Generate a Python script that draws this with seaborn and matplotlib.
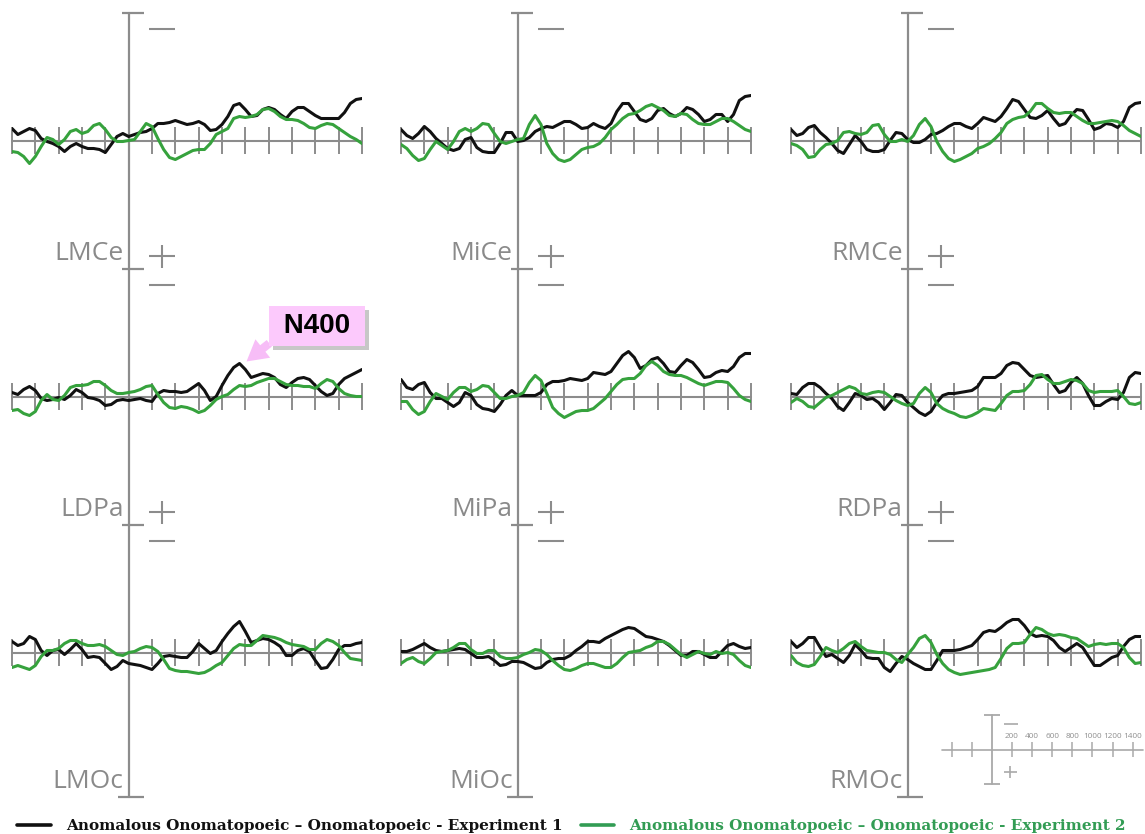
import numpy as np
import pandas as pd
import matplotlib
matplotlib.use("Agg")
import matplotlib.pyplot as plt
import seaborn as sns
from matplotlib import patheffects
from matplotlib.lines import Line2D
from matplotlib.font_manager import FontProperties

# ---------------- data (µV difference waves, negative plotted up) ----------------
time_ms = np.arange(-500, 1001, 25)

series_names = ["Anomalous Onomatopoeic \u2013 Onomatopoeic - Experiment 1",
                "Anomalous Onomatopoeic \u2013 Onomatopoeic - Experiment 2"]

electrode_grid = [["LMCe", "MiCe", "RMCe"],
                  ["LDPa", "MiPa", "RDPa"],
                  ["LMOc", "MiOc", "RMOc"]]

lmce_exp1 = [-1.2,-0.6,-0.9,-1.2,-1.0,-0.2,0.1,0.3,0.6,1.1, 0.6,0.3,0.6,0.8,0.8,0.9,1.2,0.4,-0.4,-0.7,
             -0.4,-0.6,-0.8,-0.9,-1.2,-1.7,-1.7,-1.8,-2.0,-1.8, -1.6,-1.7,-1.9,-1.6,-1.0,-1.1,-1.6,-2.4,-3.5,-3.7,
             -3.1,-2.4,-2.5,-3.1,-3.3,-3.1,-2.6,-2.2,-2.9,-3.3, -3.3,-2.9,-2.5,-2.2,-2.2,-2.2,-2.2,-2.8,-3.7,-4.1, -4.2]
lmce_exp2 = [1.1,1.2,1.6,2.3,1.6,0.6,-0.3,-0.1,0.4,-0.1, -0.9,-1.1,-0.7,-0.9,-1.5,-1.7,-1.1,-0.3,0.1,0.1,
             0.0,-0.1,-0.9,-1.7,-1.4,-0.2,0.9,1.7,1.9,1.6, 1.3,1.0,0.9,0.9,0.3,-0.6,-0.9,-1.2,-2.2,-2.4,
             -2.3,-2.4,-2.6,-3.1,-3.2,-2.9,-2.4,-2.1,-2.1,-2.0, -1.7,-1.3,-1.2,-1.5,-1.7,-1.6,-1.2,-0.8,-0.4,-0.1, 0.3]
mice_exp1 = [-1.1,-0.5,-0.2,-0.7,-1.4,-0.9,-0.2,0.3,0.8,1.0, 0.8,-0.1,-0.3,0.7,1.1,1.2,1.2,0.3,-0.8,-0.8,
             0.1,0.0,-0.3,-0.9,-1.2,-1.4,-1.3,-1.6,-1.9,-1.9, -1.6,-1.2,-1.3,-1.7,-1.4,-1.2,-1.7,-2.9,-3.7,-3.7,
             -2.9,-2.1,-1.9,-2.2,-3.0,-3.2,-2.7,-2.4,-2.7,-3.3, -3.1,-2.6,-1.9,-2.1,-2.6,-2.6,-1.9,-2.6,-4.0,-4.4, -4.5]
mice_exp2 = [0.4,0.8,1.5,2.0,1.8,0.9,0.1,0.5,0.9,0.1, -0.9,-1.2,-0.9,-1.2,-1.7,-1.6,-0.7,0.1,0.3,0.1,
             -0.1,-0.2,-1.6,-2.5,-1.6,0.3,1.3,1.9,2.1,1.9, 1.4,0.9,0.7,0.6,0.3,-0.3,-1.1,-1.6,-2.2,-2.6,
             -2.7,-3.0,-3.4,-3.6,-3.3,-3.0,-2.5,-2.4,-2.7,-2.6, -2.1,-1.7,-1.6,-1.6,-1.9,-2.2,-2.2,-1.9,-1.5,-1.1, -0.9]
rmce_exp1 = [-1.1,-0.5,-0.7,-1.3,-1.5,-0.8,-0.3,0.3,1.0,1.3, 0.4,-0.5,0.1,0.9,1.1,1.1,0.9,0.0,-0.8,-0.7,
             -0.1,0.2,0.2,-0.1,-0.6,-0.7,-1.0,-1.4,-1.7,-1.7, -1.4,-1.2,-1.7,-2.3,-2.1,-1.9,-2.4,-3.2,-4.1,-3.9,
             -3.1,-2.3,-2.2,-2.5,-3.0,-2.2,-1.5,-1.7,-2.5,-3.1, -3.0,-2.1,-1.1,-1.3,-1.7,-1.6,-1.3,-1.9,-3.3,-3.7, -3.8]
rmce_exp2 = [0.3,0.5,0.9,1.7,1.6,0.9,0.4,0.3,0.0,-0.8, -0.9,-0.7,-0.6,-0.8,-1.5,-1.6,-0.6,0.1,0.1,-0.1,
             0.1,-0.5,-1.6,-2.2,-1.4,0.1,1.1,1.8,2.1,1.9, 1.6,1.3,0.8,0.6,0.3,-0.2,-0.8,-1.7,-2.1,-2.3,
             -2.4,-2.9,-3.7,-3.7,-3.2,-2.8,-2.7,-2.8,-2.8,-2.4, -2.0,-1.7,-1.7,-1.8,-1.9,-2.0,-1.9,-1.5,-1.0,-0.7, -0.4]
ldpa_exp1 = [-0.4,-0.2,-0.7,-1.0,-0.6,0.2,0.4,0.3,0.1,0.3, -0.1,-0.7,-0.4,0.1,0.2,0.4,0.9,0.8,0.4,0.3,
             0.4,0.3,0.2,0.4,0.5,-0.3,-0.6,-0.5,-0.5,-0.4, -0.5,-0.9,-1.3,-0.6,0.4,0.0,-1.1,-2.1,-2.9,-3.3,
             -2.7,-1.9,-2.1,-2.3,-2.2,-1.9,-1.2,-0.9,-1.4,-1.8, -1.9,-1.7,-1.1,-0.5,-0.1,-0.3,-1.2,-1.8,-2.1,-2.4, -2.7]
ldpa_exp2 = [1.4,1.3,1.7,1.9,1.5,0.4,-0.2,0.3,0.4,-0.1, -0.9,-1.1,-1.1,-1.2,-1.5,-1.5,-1.1,-0.6,-0.3,-0.3,
             -0.4,-0.5,-0.7,-1.0,-1.1,-0.2,0.6,1.1,1.2,1.0, 1.1,1.3,1.6,1.4,0.9,0.3,0.0,-0.2,-0.7,-1.1,
             -1.0,-1.1,-1.4,-1.6,-1.8,-1.8,-1.5,-1.2,-1.1,-1.1, -1.0,-1.0,-0.8,-1.3,-1.7,-1.5,-0.8,-0.3,-0.1,0.0, 0.0]
mipa_exp1 = [-1.7,-0.9,-0.7,-1.2,-1.4,-0.4,0.2,0.2,0.6,1.0, 0.6,-0.4,-0.1,0.8,1.2,1.3,1.5,0.8,-0.1,-0.6,
             -0.1,-0.1,-0.1,-0.1,-0.4,-1.2,-1.5,-1.5,-1.6,-1.8, -1.7,-1.6,-1.8,-2.4,-2.3,-2.2,-2.5,-3.3,-4.1,-4.5,
             -3.9,-2.8,-3.1,-3.7,-3.9,-3.3,-2.5,-2.4,-3.1,-3.7, -3.4,-2.7,-1.9,-2.0,-2.4,-2.6,-2.5,-3.0,-3.9,-4.3, -4.3]
mipa_exp2 = [0.5,0.5,1.3,1.8,1.5,0.5,-0.3,0.0,0.3,-0.4, -0.9,-0.9,-0.5,-0.7,-1.1,-1.0,-0.4,0.2,0.2,0.0,
             -0.1,-0.4,-1.4,-2.1,-1.6,-0.3,1.1,1.7,2.1,1.8, 1.5,1.4,1.4,1.2,0.7,0.2,-0.5,-1.2,-1.7,-1.8,
             -1.8,-2.3,-3.1,-3.5,-3.1,-2.5,-2.2,-2.1,-2.1,-1.9, -1.6,-1.3,-1.1,-1.3,-1.5,-1.5,-1.4,-0.8,-0.1,0.3, 0.5]
rdpa_exp1 = [-0.3,-0.2,-0.9,-1.3,-1.3,-0.9,-0.3,0.2,1.0,1.4, 0.6,-0.3,-0.1,0.3,0.2,0.6,1.3,0.6,-0.2,-0.1,
             0.6,1.1,1.6,1.9,1.5,0.6,-0.1,-0.3,-0.3,-0.4, -0.5,-0.6,-1.0,-1.9,-1.9,-1.9,-2.3,-3.1,-3.4,-3.3,
             -2.7,-2.1,-1.9,-2.0,-2.1,-1.2,-0.4,-0.6,-1.4,-1.9, -1.3,-0.1,0.9,0.9,0.5,0.2,0.3,-0.4,-1.9,-2.4, -2.3]
rdpa_exp2 = [0.6,0.2,0.5,1.0,1.1,0.6,0.1,-0.1,-0.4,-0.7, -1.0,-0.8,-0.3,-0.2,-0.4,-0.5,-0.4,0.0,0.4,0.7,
             0.9,0.7,-0.3,-0.9,-0.4,0.7,1.2,1.5,1.7,2.0, 2.1,1.9,1.6,1.2,1.3,1.4,0.7,-0.1,-0.5,-0.5,
             -0.6,-1.2,-2.1,-2.2,-1.7,-1.3,-1.3,-1.5,-1.7,-1.6, -1.3,-0.6,-0.4,-0.5,-0.5,-0.5,-0.6,0.0,0.7,0.8, 0.6]
lmoc_exp1 = [-1.1,-0.7,-0.9,-1.6,-1.3,-0.2,0.3,-0.2,-0.3,0.2, -0.3,-0.9,-0.3,0.5,0.4,0.5,1.1,1.7,1.4,0.8,
             1.1,1.2,1.3,1.5,1.7,1.1,0.4,0.3,0.4,0.5, 0.5,-0.1,-0.9,-0.4,0.1,-0.2,-1.1,-1.9,-2.6,-3.1,
             -2.1,-1.0,-1.2,-1.4,-1.3,-1.0,-0.6,0.3,0.3,-0.2, -0.4,-0.1,0.8,1.6,1.5,0.7,-0.3,-0.7,-0.7,-0.9, -1.0]
lmoc_exp2 = [1.5,1.3,1.5,1.7,1.3,0.4,-0.2,-0.2,-0.4,-0.9, -1.2,-1.2,-0.9,-0.7,-0.7,-0.8,-0.6,-0.2,0.2,0.3,
             0.0,-0.1,-0.4,-0.6,-0.5,-0.1,0.7,1.6,1.8,1.9, 1.9,2.0,2.1,2.0,1.7,1.3,1.0,0.3,-0.4,-0.8,
             -0.7,-0.7,-1.2,-1.7,-1.6,-1.5,-1.3,-1.0,-0.8,-0.7, -0.6,-0.3,-0.3,-0.9,-1.3,-1.1,-0.7,0.0,0.6,0.7, 0.8]
mioc_exp1 = [-0.1,-0.1,-0.3,-0.6,-0.9,-0.5,-0.2,-0.1,-0.2,-0.3, -0.4,-0.3,0.1,0.5,0.5,0.4,0.8,1.3,1.2,0.9,
             0.9,1.0,1.3,1.6,1.5,1.0,0.7,0.6,0.6,0.3, -0.2,-0.6,-1.1,-1.1,-1.0,-1.4,-1.7,-2.0,-2.3,-2.5,
             -2.4,-2.0,-1.6,-1.5,-1.3,-1.1,-0.7,-0.2,0.3,0.3, -0.1,-0.1,0.2,0.5,0.5,-0.1,-0.7,-0.9,-0.6,-0.4, -0.5]
mioc_exp2 = [1.1,0.7,0.5,0.9,1.1,0.6,0.0,-0.1,-0.2,-0.5, -0.9,-0.9,-0.3,0.1,0.1,-0.2,-0.2,0.4,0.6,0.6,
             0.5,0.2,0.0,-0.3,-0.2,0.2,0.8,1.3,1.7,1.8, 1.6,1.3,1.1,1.1,1.3,1.5,1.5,1.1,0.5,0.0,
             -0.1,-0.2,-0.5,-0.7,-1.1,-1.1,-0.8,-0.3,0.2,0.5, 0.2,-0.1,0.1,0.2,-0.1,0.1,0.0,0.2,0.8,1.3, 1.5]
rmoc_exp1 = [-1.1,-0.5,-0.9,-1.5,-1.5,-0.5,0.4,0.2,0.6,1.0, 0.3,-0.8,-0.2,0.5,0.6,0.6,1.5,1.9,1.1,0.4,
             0.7,1.1,1.4,1.7,1.7,0.8,-0.2,-0.2,-0.2,-0.3, -0.5,-0.7,-1.3,-2.0,-2.2,-2.1,-2.5,-3.0,-3.3,-3.3,
             -2.7,-1.9,-1.6,-1.7,-1.6,-1.2,-0.5,-0.1,-0.5,-0.9, -0.5,0.4,1.3,1.3,0.9,0.5,0.3,-0.6,-1.3,-1.6, -1.6]
rmoc_exp2 = [0.3,1.0,1.3,1.4,1.2,0.4,-0.5,-0.2,0.0,-0.4, -0.9,-1.1,-0.6,-0.2,-0.1,0.0,0.0,0.2,0.7,1.0,
             0.2,-0.5,-1.4,-1.7,-1.0,0.2,1.1,1.7,2.0,2.2, 2.1,2.0,1.9,1.8,1.7,1.5,0.6,-0.4,-0.9,-0.9,
             -1.0,-1.8,-2.5,-2.3,-1.9,-1.7,-1.8,-1.7,-1.5,-1.4, -1.0,-0.6,-0.8,-0.9,-0.8,-0.9,-0.9,-0.5,0.5,1.1, 1.0]

scale_tick_ms = [-400, -200, 200, 400, 600, 800, 1000, 1200, 1400]
panel_tick_ms = np.arange(-500, 1001, 100)

waves = {
    "LMCe": (lmce_exp1, lmce_exp2), "MiCe": (mice_exp1, mice_exp2), "RMCe": (rmce_exp1, rmce_exp2),
    "LDPa": (ldpa_exp1, ldpa_exp2), "MiPa": (mipa_exp1, mipa_exp2), "RDPa": (rdpa_exp1, rdpa_exp2),
    "LMOc": (lmoc_exp1, lmoc_exp2), "MiOc": (mioc_exp1, mioc_exp2), "RMOc": (rmoc_exp1, rmoc_exp2),
}

# ---------------- style ----------------
sns.set_style("white")
plt.rcParams["font.family"] = ["Open Sans", "DejaVu Sans"]

BLACK = "#111111"
GREEN = "#36a23d"
GREEN_TXT = "#329c54"
AXGRAY = "#8c8c8c"
LABGRAY = "#8a8a8a"
palette = {series_names[0]: BLACK, series_names[1]: GREEN}

W, H = 1145, 834
fig = plt.figure(figsize=(W / 100, H / 100), dpi=100)


def px_axes(left, top, width, height):
    return fig.add_axes([left / W, 1 - (top + height) / H, width / W, height / H])


col_left = [12, 401, 791]
row_top = [13, 269, 525]
row_h = [256, 256, 272]
BASE_OFF = 127.5     # px from panel top to baseline
PX_PER_UV = 10.0

axes = {}
for r in range(3):
    for c in range(3):
        name = electrode_grid[r][c]
        ax = px_axes(col_left[c], row_top[r], 350, row_h[r])
        e1, e2 = waves[name]
        assert len(e1) == len(time_ms) and len(e2) == len(time_ms)
        df = pd.DataFrame({
            "time": np.concatenate([time_ms, time_ms]),
            "amp": np.concatenate([e1, e2]),
            "series": [series_names[0]] * len(time_ms) + [series_names[1]] * len(time_ms),
        })
        sns.lineplot(data=df, x="time", y="amp", hue="series", hue_order=series_names,
                     palette=palette, ax=ax, legend=False, linewidth=2.2,
                     estimator=None, sort=False, zorder=3,
                     solid_joinstyle="round", solid_capstyle="round")
        y_top = -BASE_OFF / PX_PER_UV
        y_bot = (row_h[r] - BASE_OFF) / PX_PER_UV
        ax.set_xlim(-500, 1000)
        ax.set_ylim(y_bot, y_top)
        ax.axis("off")

        kw = dict(color=AXGRAY, zorder=1, clip_on=False)
        ax.axvline(0, lw=1.6, **kw)
        ax.axhline(0, lw=1.5, **kw)
        ax.vlines(panel_tick_ms, -1.35, 1.35, lw=1.4, **kw)
        ax.hlines(y_top, -30, 64, lw=1.6, **kw)
        if r == 2:
            ax.hlines(y_bot, -45, 64, lw=1.6, **kw)
        # minus sign (negative up)
        ax.hlines(y_top + 1.6, 86, 197, lw=1.5, **kw)
        # plus sign (positive down)
        if r < 2:
            yp = (243 - BASE_OFF) / PX_PER_UV
            ax.hlines(yp, 86, 197, lw=1.5, **kw)
            ax.vlines(141, yp - 1.15, yp + 1.2, lw=1.5, **kw)
        ax.text(-22, y_bot - 0.35, name, ha="right", va="bottom", fontsize=19,
                color=LABGRAY, family=["Open Sans", "DejaVu Sans"])
        axes[name] = ax

# ---------------- N400 callout ----------------
ann = axes["LDPa"].annotate(
    " N400 ", xy=(505, -3.5), xytext=(808, -7.05), ha="center", va="center",
    fontsize=20, fontweight="bold", color="black", family=["Liberation Sans", "DejaVu Sans"],
    bbox=dict(boxstyle="square,pad=0.25", fc="#fcc9fc", ec="none"),
    arrowprops=dict(arrowstyle="simple,head_length=0.75,head_width=0.85,tail_width=0.3",
                    fc="#f7bdf7", ec="none", shrinkA=0, shrinkB=0, relpos=(0.04, 0.15)),
    zorder=6, annotation_clip=False)
ann.get_bbox_patch().set_path_effects([
    patheffects.withSimplePatchShadow(offset=(3, -3), shadow_rgbFace="#9a9a9a", alpha=0.55),
    patheffects.Normal()])

# ---------------- scale bar (bottom right) ----------------
SGRAY = "#a9a9a9"
sb = px_axes(941.7, 715, 201, 69)
sb.set_xlim(-500, 1500)
sb.set_ylim(3.45, -3.45)
sb.axis("off")
skw = dict(color=SGRAY, clip_on=False)
sb.axvline(0, lw=1.3, **skw)
sb.axhline(0, lw=1.2, **skw)
sb.vlines(scale_tick_ms, -0.75, 0.75, lw=1.1, **skw)
sb.hlines([-3.45, 3.45], -75, 85, lw=1.3, **skw)
sb.hlines(-2.6, 120, 260, lw=1.2, **skw)
sb.hlines(2.2, 115, 250, lw=1.2, **skw)
sb.vlines(183, 1.6, 2.8, lw=1.2, **skw)
for t in scale_tick_ms:
    if t > 0:
        sb.text(t, -1.35, str(t), ha="center", va="center", fontsize=5.9, color="#8f8f8f")

# ---------------- legend ----------------
handles = [Line2D([], [], color=BLACK, lw=2.6), Line2D([], [], color=GREEN_TXT, lw=2.6)]
leg = fig.legend(handles, series_names, loc="lower left", bbox_to_anchor=(14 / W, -2 / H),
                 ncol=2, frameon=False, handlelength=2.2, handletextpad=1.0,
                 columnspacing=1.2, borderaxespad=0, borderpad=0.2,
                 prop=FontProperties(family="DejaVu Serif", weight="bold", size=10.95))
for txt, col in zip(leg.get_texts(), [BLACK, GREEN_TXT]):
    txt.set_color(col)

fig.savefig("out.png", dpi=100, facecolor="white")
